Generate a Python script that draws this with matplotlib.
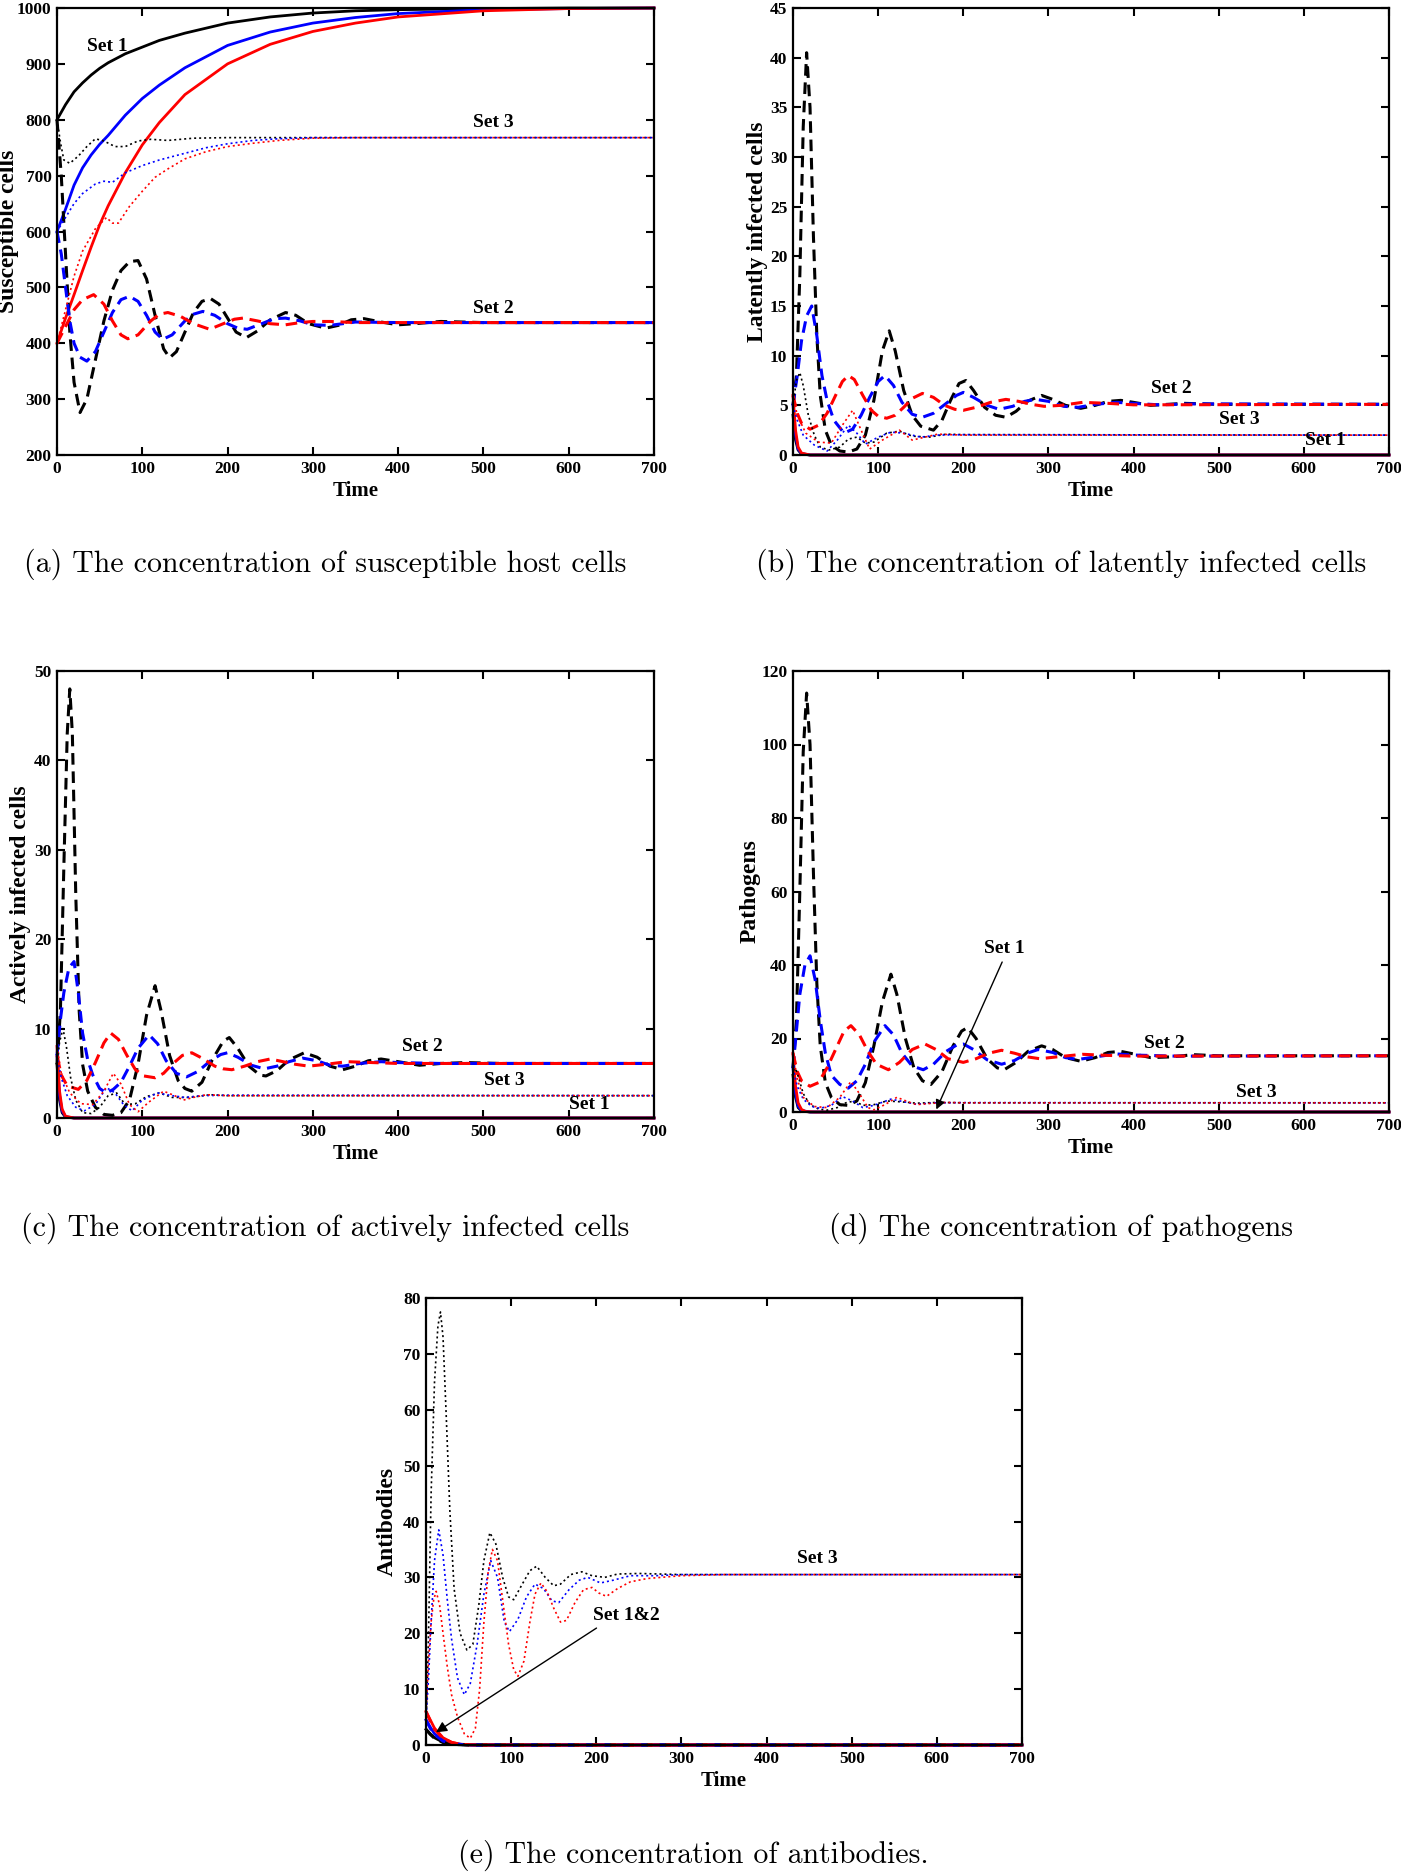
import matplotlib.pyplot as plt

plt.rcParams['font.family'] = 'Liberation Serif'
plt.rcParams['font.weight'] = 'bold'
plt.rcParams['axes.labelweight'] = 'bold'

# ---------------- data: (time, value) pairs ----------------
# colour order in every list: black, blue, red

# (a) susceptible host cells
a_set1 = [
    [(0, 800), (10, 827), (20, 850), (30, 866), (40, 880), (50, 892), (60, 902), (80, 918), (100, 930),
     (120, 942), (150, 955), (200, 973), (250, 984), (300, 991), (350, 995), (400, 997), (500, 999),
     (600, 1000), (700, 1000)],
    [(0, 600), (10, 640), (20, 683), (30, 714), (40, 737), (50, 756), (60, 772), (80, 808), (100, 838),
     (120, 862), (150, 893), (200, 933), (250, 957), (300, 973), (350, 983), (400, 990), (500, 997),
     (600, 999), (700, 1000)],
    [(0, 400), (10, 445), (20, 487), (30, 530), (40, 572), (50, 612), (60, 646), (80, 705), (100, 755),
     (120, 795), (150, 845), (200, 900), (250, 935), (300, 958), (350, 973), (400, 984), (500, 995),
     (600, 999), (700, 1000)],
]
a_set2 = [
    [(0, 800), (5, 700), (10, 560), (15, 420), (20, 330), (27, 276), (35, 300), (45, 370), (55, 440),
     (65, 495), (75, 530), (85, 546), (95, 548), (105, 515), (115, 450), (125, 390), (132, 374),
     (140, 385), (150, 420), (160, 455), (170, 475), (180, 480), (190, 470), (200, 445), (210, 420),
     (222, 410), (235, 422), (250, 442), (268, 455), (280, 450), (295, 435), (315, 427), (330, 432),
     (345, 442), (360, 444), (380, 438), (400, 433), (420, 435), (450, 439), (500, 437), (700, 437)],
    [(0, 600), (5, 560), (10, 500), (15, 440), (20, 400), (27, 375), (35, 368), (45, 385), (55, 420),
     (65, 455), (75, 478), (85, 484), (95, 475), (105, 450), (115, 420), (124, 407), (135, 415),
     (150, 440), (160, 452), (171, 457), (185, 450), (200, 435), (212, 427), (223, 425), (240, 435),
     (255, 444), (268, 445), (285, 440), (300, 433), (320, 432), (350, 438), (400, 437), (700, 437)],
    [(0, 400), (10, 430), (20, 460), (30, 478), (43, 487), (55, 470), (65, 440), (75, 415), (83, 408),
     (95, 415), (110, 440), (120, 452), (130, 455), (145, 448), (160, 435), (179, 425), (195, 435),
     (208, 443), (218, 445), (235, 440), (250, 435), (268, 433), (285, 437), (300, 439), (320, 439),
     (350, 437), (700, 437)],
]
a_set3 = [
    [(0, 800), (4, 760), (8, 728), (15, 722), (25, 735), (35, 752), (45, 766), (55, 762), (68, 752),
     (80, 752), (95, 762), (110, 765), (130, 763), (160, 767), (200, 768), (700, 768)],
    [(0, 600), (10, 625), (20, 650), (30, 668), (45, 685), (55, 690), (65, 688), (80, 705), (100, 718),
     (120, 728), (150, 740), (175, 750), (200, 757), (230, 763), (260, 766), (300, 768), (700, 768)],
    [(0, 400), (10, 460), (20, 520), (30, 565), (45, 605), (58, 625), (65, 615), (72, 615), (85, 645),
     (100, 672), (115, 697), (130, 712), (150, 730), (175, 743), (200, 752), (230, 758), (260, 763),
     (300, 767), (350, 768), (700, 768)],
]

# (b) latently infected cells
b_set1 = [
    [(0, 4), (3, 1.5), (6, 0.5), (10, 0.1), (20, 0), (700, 0)],
    [(0, 5), (3, 2), (6, 0.6), (10, 0.15), (20, 0), (700, 0)],
    [(0, 6), (3, 2.5), (6, 0.8), (10, 0.2), (20, 0), (700, 0)],
]
b_set2 = [
    [(0, 5), (4, 8), (8, 18), (12, 33), (16, 40.5), (20, 35), (24, 22), (28, 12), (32, 6), (38, 2.5),
     (45, 1.0), (55, 0.4), (65, 0.3), (75, 0.6), (85, 2.0), (95, 5.5), (105, 10.5), (113, 12.5),
     (120, 10.5), (130, 6.5), (140, 4.0), (150, 2.9), (165, 2.5), (175, 3.5), (185, 5.5), (195, 7.2),
     (203, 7.5), (212, 6.5), (225, 4.8), (238, 4.0), (250, 3.8), (262, 4.4), (275, 5.4), (292, 6.0),
     (305, 5.6), (320, 5.0), (338, 4.7), (355, 5.0), (370, 5.4), (385, 5.5), (400, 5.3), (420, 5.0),
     (440, 5.1), (460, 5.2), (500, 5.1), (700, 5.1)],
    [(0, 5), (5, 8), (10, 11.5), (16, 14), (22, 15), (28, 12), (34, 8), (40, 5.5), (48, 3.5), (60, 2.2),
     (70, 2.6), (80, 4.0), (90, 5.8), (100, 7.4), (108, 8.0), (118, 7.0), (128, 5.3), (140, 4.1),
     (152, 3.8), (165, 4.2), (180, 5.2), (192, 6.0), (200, 6.3), (212, 5.8), (228, 5.0), (242, 4.6),
     (258, 4.9), (272, 5.4), (285, 5.6), (300, 5.4), (318, 4.9), (335, 4.8), (355, 5.1), (380, 5.3),
     (400, 5.2), (430, 5.05), (470, 5.15), (700, 5.1)],
    [(0, 6), (5, 4.2), (10, 3.2), (20, 2.6), (30, 3.0), (40, 4.2), (50, 6.0), (58, 7.4), (65, 8.0),
     (72, 7.6), (82, 6.0), (92, 4.5), (100, 3.9), (110, 3.7), (120, 4.0), (130, 4.8), (140, 5.7),
     (152, 6.2), (165, 5.8), (178, 5.0), (190, 4.6), (200, 4.5), (215, 4.8), (232, 5.3), (250, 5.6),
     (265, 5.4), (280, 5.1), (295, 4.9), (315, 5.0), (340, 5.3), (370, 5.2), (400, 5.05), (700, 5.1)],
]
b_set3 = [
    [(0, 5), (4, 7.5), (8, 8.3), (12, 7), (18, 4), (25, 2), (32, 0.8), (42, 0.5), (55, 0.8), (65, 1.6),
     (75, 1.8), (85, 1.2), (95, 1.3), (110, 2.2), (125, 2.4), (140, 1.9), (160, 1.8), (180, 2.1),
     (200, 2.05), (700, 2.0)],
    [(0, 5), (5, 3.5), (12, 2), (25, 1), (40, 0.4), (52, 1.5), (65, 3), (75, 2.2), (85, 1.1), (100, 1.8),
     (115, 2.3), (130, 2.2), (150, 1.8), (170, 2.0), (200, 2.05), (700, 2.0)],
    [(0, 6), (5, 4), (15, 2.2), (30, 1.3), (45, 1.2), (58, 3), (70, 4.5), (80, 2.5), (90, 0.6), (105, 1.5),
     (125, 2.5), (140, 1.5), (155, 1.8), (170, 2.1), (200, 2.0), (700, 2.0)],
]

# (c) actively infected cells
c_set1 = [
    [(0, 6), (3, 2), (6, 0.6), (10, 0.1), (20, 0), (700, 0)],
    [(0, 7), (3, 2.5), (6, 0.8), (10, 0.15), (20, 0), (700, 0)],
    [(0, 8), (3, 3), (6, 1.0), (10, 0.2), (20, 0), (700, 0)],
]
c_set2 = [
    [(0, 6), (4, 12), (8, 28), (12, 43), (15, 48), (18, 43), (22, 25), (26, 12), (30, 6), (36, 3),
     (45, 1.2), (55, 0.4), (65, 0.3), (75, 0.6), (85, 2.0), (95, 6.0), (105, 11.5), (115, 14.8),
     (122, 12), (132, 7), (142, 4.2), (150, 3.3), (158, 3.0), (170, 4.0), (182, 6.5), (195, 8.6),
     (202, 9.0), (212, 7.8), (225, 5.8), (238, 4.8), (245, 4.7), (258, 5.3), (272, 6.5), (290, 7.3),
     (305, 6.8), (320, 5.8), (335, 5.4), (350, 5.8), (365, 6.4), (380, 6.6), (400, 6.3), (425, 5.9),
     (450, 6.1), (480, 6.2), (520, 6.1), (700, 6.1)],
    [(0, 7), (4, 11), (8, 14), (14, 16.8), (20, 17.5), (25, 14), (30, 9.5), (36, 6.5), (42, 4.8),
     (50, 3.3), (58, 2.8), (66, 3.2), (75, 4.0), (85, 5.8), (95, 7.8), (108, 9.3), (118, 8.3),
     (128, 6.4), (140, 5.0), (152, 4.6), (165, 5.2), (180, 6.4), (192, 7.1), (200, 7.3), (212, 6.8),
     (228, 5.9), (243, 5.5), (258, 5.8), (272, 6.3), (288, 6.7), (305, 6.4), (320, 5.9), (335, 5.8),
     (355, 6.1), (380, 6.3), (400, 6.2), (450, 6.1), (700, 6.1)],
    [(0, 7), (5, 4.8), (12, 3.6), (25, 3.2), (35, 4.2), (45, 6.2), (55, 8.4), (63, 9.5), (72, 8.8),
     (82, 7.0), (92, 5.4), (102, 4.7), (115, 4.5), (125, 5.0), (135, 6.0), (147, 7.0), (158, 7.3),
     (170, 6.7), (185, 5.8), (195, 5.5), (205, 5.4), (220, 5.8), (235, 6.3), (250, 6.6), (265, 6.3),
     (280, 6.0), (295, 5.8), (315, 6.0), (340, 6.3), (370, 6.2), (400, 6.1), (700, 6.1)],
]
c_set3 = [
    [(0, 6), (3, 8.5), (7, 10), (11, 8), (16, 4.5), (22, 2), (30, 0.6), (40, 0.5), (50, 1.2), (60, 2.5),
     (70, 2.8), (80, 1.5), (92, 1.6), (105, 2.4), (120, 2.8), (135, 2.3), (155, 2.3), (180, 2.6),
     (200, 2.5), (700, 2.5)],
    [(0, 7), (5, 4.5), (12, 2.5), (22, 1.2), (32, 0.8), (45, 1.5), (58, 3.4), (68, 2.8), (78, 1.5),
     (88, 0.8), (100, 2), (118, 2.8), (135, 2.5), (150, 2.3), (170, 2.5), (200, 2.55), (700, 2.5)],
    [(0, 8), (5, 5), (15, 2.8), (28, 1.6), (42, 1.5), (55, 3), (66, 5), (75, 3.8), (85, 1.5), (95, 0.7),
     (108, 1.8), (125, 3), (138, 2.5), (148, 2.0), (160, 2.3), (175, 2.6), (200, 2.5), (700, 2.5)],
]

# (d) pathogens
d_set1 = [
    [(0, 10), (3, 4), (6, 1.2), (10, 0.3), (20, 0), (700, 0)],
    [(0, 12), (3, 5), (6, 1.6), (10, 0.4), (20, 0), (700, 0)],
    [(0, 16), (3, 7), (6, 2.5), (10, 0.7), (15, 0.1), (25, 0), (700, 0)],
]
d_set2 = [
    [(0, 12), (4, 25), (8, 60), (12, 98), (16, 114), (20, 100), (24, 65), (28, 35), (32, 18), (38, 8),
     (45, 4), (55, 2), (65, 1.8), (75, 3), (85, 8), (95, 18), (105, 30), (115, 37.5), (122, 32),
     (132, 20), (142, 12), (152, 8.5), (162, 7.5), (175, 11), (188, 18), (198, 22), (205, 23),
     (215, 20), (228, 14.5), (240, 12), (248, 11.5), (262, 13.5), (276, 16.5), (292, 18), (305, 17),
     (320, 14.8), (338, 13.8), (355, 14.8), (370, 16.2), (385, 16.5), (400, 15.8), (420, 14.8),
     (445, 15.0), (470, 15.6), (500, 15.3), (700, 15.3)],
    [(0, 12), (4, 22), (8, 32), (14, 40), (20, 42.5), (26, 36), (32, 25), (38, 16), (45, 10), (55, 7.5),
     (65, 6.5), (75, 8.5), (85, 13), (95, 19), (108, 23.5), (118, 21), (128, 16), (140, 12.5),
     (153, 11.5), (165, 13), (180, 16.5), (192, 18.2), (200, 18.5), (212, 17), (228, 14.2), (245, 13),
     (260, 14), (275, 16), (288, 17), (305, 16.2), (320, 14.8), (335, 14.3), (355, 15), (380, 15.8),
     (400, 15.5), (450, 15.2), (700, 15.3)],
    [(0, 16), (5, 11), (10, 8.5), (20, 7), (30, 8), (40, 12), (50, 17), (60, 22), (68, 23.5), (78, 21),
     (88, 16.5), (98, 13), (112, 11.5), (125, 13.5), (140, 17), (155, 18.5), (168, 17), (182, 14.5),
     (200, 13.5), (215, 14.5), (230, 16), (245, 16.8), (260, 16), (275, 15), (290, 14.5), (310, 15),
     (340, 15.7), (370, 15.4), (400, 15.2), (700, 15.3)],
]
d_set3 = [
    [(0, 10), (3, 12), (7, 9), (12, 5), (20, 2), (30, 0.8), (40, 0.5), (52, 1.2), (62, 2.5), (72, 3),
     (82, 1.8), (95, 2), (110, 3), (125, 2.8), (145, 2.4), (170, 2.6), (200, 2.5), (700, 2.5)],
    [(0, 12), (5, 7), (12, 3.5), (22, 1.5), (32, 1), (45, 1.8), (58, 4.2), (70, 3), (82, 1.2), (95, 1.8),
     (115, 3.5), (130, 2.8), (145, 2.1), (165, 2.5), (200, 2.55), (700, 2.5)],
    [(0, 16), (5, 9), (12, 4), (25, 1.5), (40, 1.2), (55, 4), (68, 8.3), (78, 5), (88, 1.2), (95, 0.6),
     (108, 2), (122, 4), (135, 2.8), (145, 2), (160, 2.3), (180, 2.6), (200, 2.5), (700, 2.5)],
]

# (e) antibodies
e_set1 = [
    [(0, 2.8), (5, 2.0), (10, 1.3), (20, 0.5), (30, 0.15), (50, 0), (700, 0)],
    [(0, 4.5), (5, 3.2), (10, 2.0), (20, 0.8), (30, 0.3), (45, 0.05), (60, 0), (700, 0)],
    [(0, 6.0), (5, 4.5), (10, 3.0), (20, 1.3), (30, 0.5), (40, 0.15), (60, 0), (700, 0)],
]
e_set2 = [
    [(0, 2.8), (5, 1.9), (10, 1.2), (20, 0.45), (30, 0.12), (50, 0), (700, 0)],
    [(0, 4.5), (5, 3.0), (10, 1.9), (20, 0.7), (30, 0.25), (45, 0.05), (60, 0), (700, 0)],
    [(0, 6.0), (5, 4.3), (10, 2.8), (20, 1.2), (30, 0.45), (40, 0.12), (60, 0), (700, 0)],
]
e_set3 = [
    [(0, 3), (3, 20), (6, 45), (10, 65), (14, 75), (17, 77.5), (20, 73), (24, 58), (28, 42), (33, 28),
     (40, 20), (48, 17), (55, 18), (62, 25), (68, 33), (75, 38), (82, 36), (90, 30), (97, 26.5),
     (103, 26), (112, 28.5), (122, 31.2), (130, 32), (140, 30), (150, 28.5), (158, 28.8), (170, 30.5),
     (183, 31), (195, 30.3), (210, 30), (225, 30.6), (250, 30.7), (300, 30.5), (700, 30.5)],
    [(0, 4.5), (3, 12), (6, 22), (10, 33), (15, 38.5), (20, 34), (25, 26), (30, 19), (37, 12), (45, 9),
     (52, 11), (60, 18), (68, 27), (76, 33), (84, 30), (92, 22), (98, 20.3), (108, 22.5), (118, 26.5),
     (128, 28.8), (138, 28), (148, 25.8), (156, 25.5), (168, 27.8), (180, 29.5), (190, 30), (205, 29),
     (220, 29.5), (240, 30.3), (270, 30.3), (300, 30.5), (700, 30.5)],
    [(0, 6), (3, 15), (6, 22), (9, 26), (12, 27.5), (16, 25), (20, 20), (25, 14), (30, 9), (37, 5),
     (45, 2), (52, 1.2), (58, 3), (63, 10), (68, 22), (73, 31), (78, 35), (84, 33), (90, 26), (97, 18),
     (103, 13.5), (108, 12.3), (115, 15), (122, 22), (128, 27), (135, 29), (142, 27.5), (150, 24.5),
     (158, 22), (165, 22.3), (175, 25.5), (185, 27.8), (195, 28.2), (203, 27.2), (212, 26.6), (225, 28),
     (240, 29.2), (260, 29.8), (300, 30.3), (350, 30.5), (700, 30.5)],
]

captions = [
    "(a) The concentration of susceptible host cells",
    "(b) The concentration of latently infected cells",
    "(c) The concentration of actively infected cells",
    "(d) The concentration of pathogens",
    "(e) The concentration of antibodies.",
]

# ---------------- drawing ----------------
W, H = 1401, 1872
fig = plt.figure(figsize=(W / 100, H / 100), dpi=100)


def box(l, t, r, b):
    return [l / W, 1 - b / H, (r - l) / W, (b - t) / H]


def draw(ax, set1, set2, set3):
    for pts, c in zip(set1, 'kbr'):
        t, v = zip(*pts)
        ax.plot(t, v, color=c, lw=2.0, clip_on=False)
    for pts, c in zip(set2, 'kbr'):
        t, v = zip(*pts)
        ax.plot(t, v, color=c, lw=2.2, ls=(0, (3.8, 2.2)), clip_on=False)
    for pts, c in zip(set3, 'kbr'):
        t, v = zip(*pts)
        ax.plot(t, v, color=c, lw=1.2, ls=(0, (1.2, 1.8)), clip_on=False)


def style(ax, ylo, yhi, ystep, ylabel, labx):
    ax.set_xlim(0, 700)
    ax.set_ylim(ylo, yhi)
    ax.set_xticks(range(0, 701, 100))
    ax.set_yticks(range(ylo, yhi + 1, ystep))
    ax.tick_params(direction='in', top=True, right=True, length=6, width=1.5, labelsize=12.5, pad=4)
    for s in ax.spines.values():
        s.set_linewidth(1.6)
    ax.set_xlabel('Time', fontsize=15, labelpad=3)
    ax.set_ylabel(ylabel, fontsize=17)
    ax.yaxis.set_label_coords(labx, 0.5)


def label(ax, x, y, s):
    ax.text(x, y, s, fontsize=14, ha='center', va='center')


axa = fig.add_axes(box(57, 8, 654, 455))
draw(axa, a_set1, a_set2, a_set3)
style(axa, 200, 1000, 100, 'Susceptible cells', -0.064)
label(axa, 59, 931, 'Set 1')
label(axa, 512, 795, 'Set 3')
label(axa, 512, 463, 'Set 2')

axb = fig.add_axes(box(793, 8, 1389, 455))
draw(axb, b_set1, b_set2, b_set3)
style(axb, 0, 45, 5, 'Latently infected cells', -0.042)
label(axb, 444, 6.7, 'Set 2')
label(axb, 524, 3.6, 'Set 3')
label(axb, 625, 1.5, 'Set 1')

axc = fig.add_axes(box(57, 671, 654, 1118))
draw(axc, c_set1, c_set2, c_set3)
style(axc, 0, 50, 10, 'Actively infected cells', -0.043)
label(axc, 428, 8.0, 'Set 2')
label(axc, 525, 4.2, 'Set 3')
label(axc, 624, 1.5, 'Set 1')

axd = fig.add_axes(box(793, 671, 1389, 1112))
draw(axd, d_set1, d_set2, d_set3)
style(axd, 0, 120, 20, 'Pathogens', -0.055)
label(axd, 248, 44.4, 'Set 1')
axd.annotate('', xy=(167, 0), xytext=(247, 41.5),
             arrowprops=dict(arrowstyle='-|>', color='k', lw=1.0, mutation_scale=14))
label(axd, 436, 18.6, 'Set 2')
label(axd, 544, 5.4, 'Set 3')

axe = fig.add_axes(box(426, 1298, 1022, 1745))
draw(axe, e_set1, e_set2, e_set3)
style(axe, 0, 80, 10, 'Antibodies', -0.048)
label(axe, 460, 33.4, 'Set 3')
label(axe, 235, 23.2, 'Set 1&2')
axe.annotate('', xy=(9, 2.0), xytext=(203, 21.2),
             arrowprops=dict(arrowstyle='-|>', color='k', lw=1.0, mutation_scale=16))

cap_pos = [(325, 564), (1061, 564), (325, 1228), (1061, 1228), (693, 1855)]
for (cx, cy), s in zip(cap_pos, captions):
    fig.text(cx / W, 1 - cy / H, s, ha='center', va='center', family='cmr10',
             fontweight='normal', fontsize=21.5)

fig.savefig('out.png', dpi=100)
